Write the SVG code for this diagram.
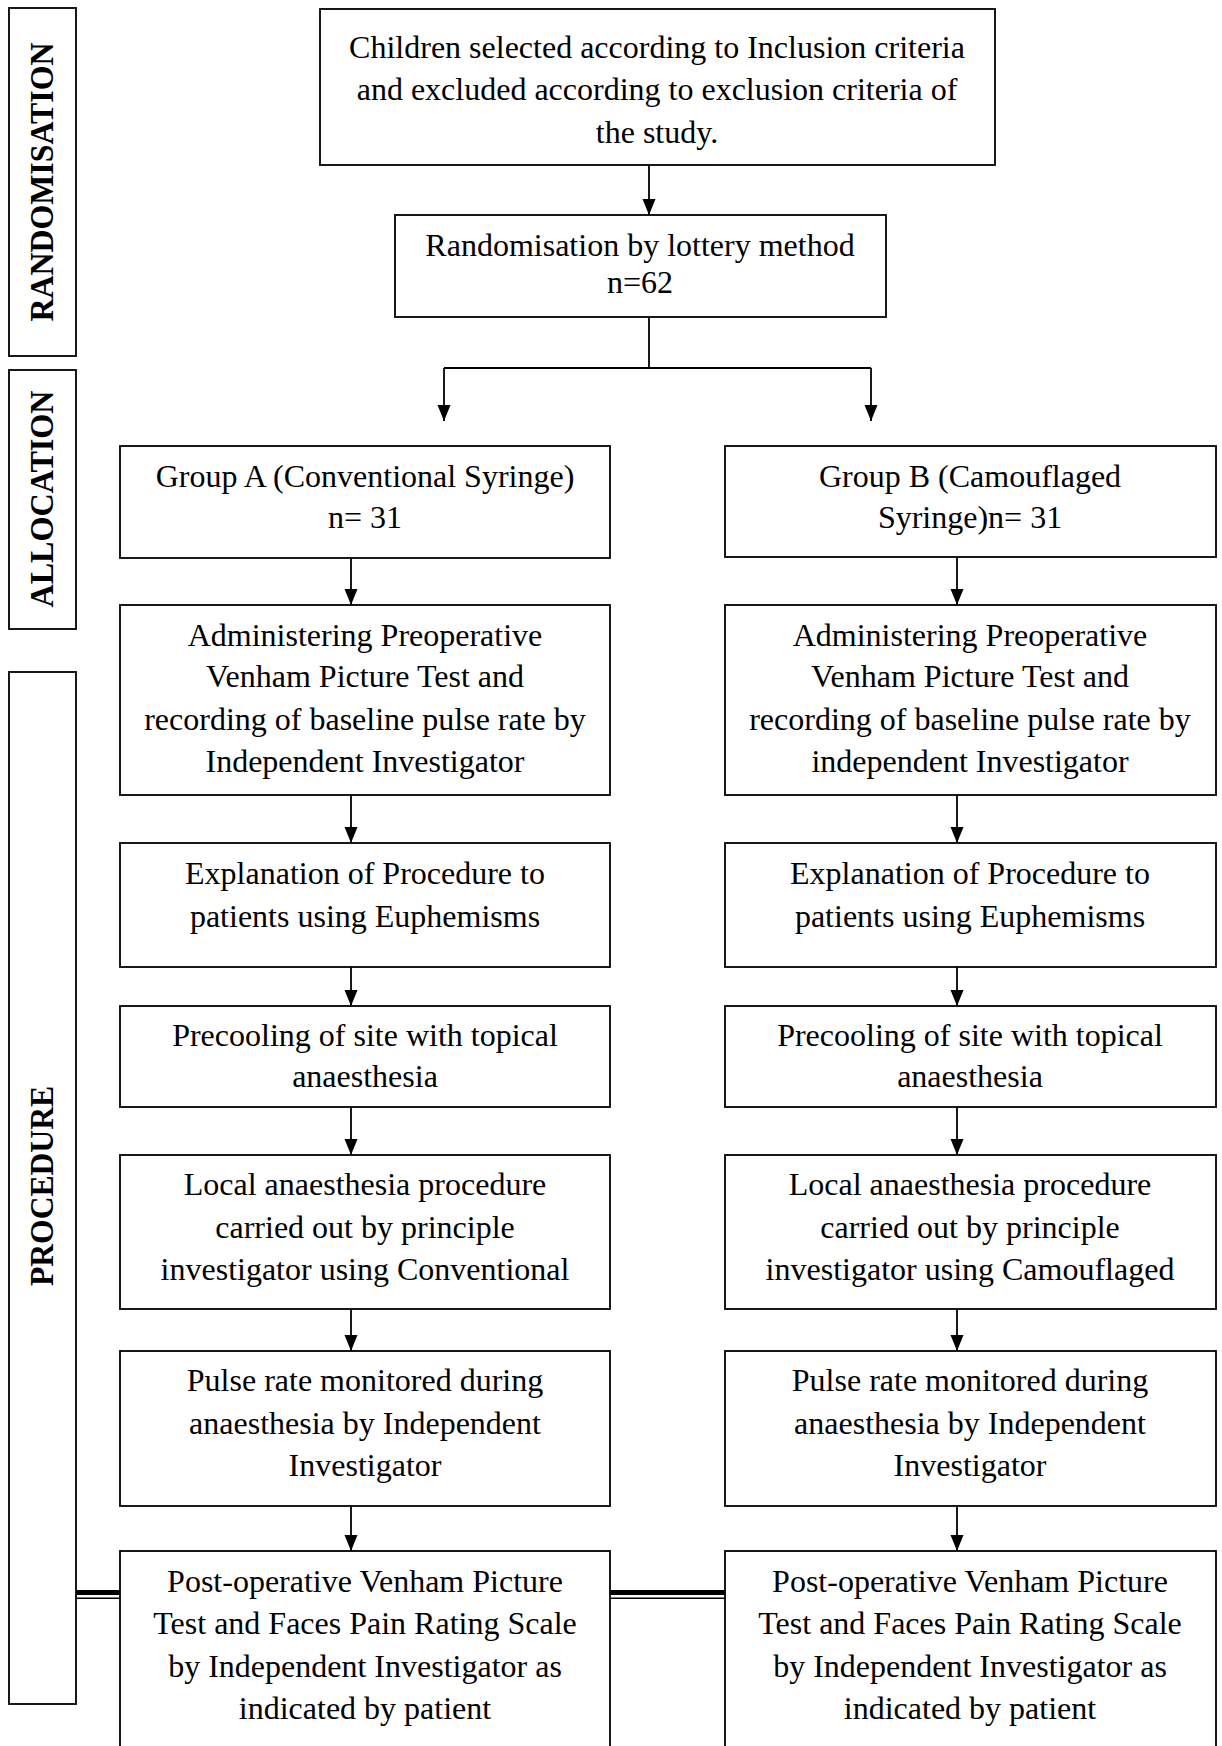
<svg xmlns="http://www.w3.org/2000/svg" width="1222" height="1746" viewBox="0 0 1222 1746">
<defs>
<marker id="ah" markerWidth="16" markerHeight="14" refX="16" refY="7" orient="auto" markerUnits="userSpaceOnUse">
<path d="M0,0.5 L16,7 L0,13.5 Z" fill="#000"/>
</marker>
<style>
.box{fill:#fff;stroke:#000;stroke-width:1.8}
.t{font-family:"Liberation Serif","Times New Roman",serif;font-size:32px;fill:#000;text-anchor:middle}
.side{font-family:"Liberation Serif","Times New Roman",serif;font-size:33px;font-weight:bold;fill:#000;text-anchor:middle}
.c{stroke:#000;stroke-width:1.8;fill:none}
.a{stroke:#000;stroke-width:1.8;fill:none;marker-end:url(#ah)}
</style>
</defs>
<rect width="1222" height="1746" fill="#fff"/>

<g id="side-randomisation">
<rect class="box" x="9" y="8" width="67" height="348"/>
<text class="side" transform="translate(53,182) rotate(-90)" textLength="279" lengthAdjust="spacingAndGlyphs">RANDOMISATION</text>
</g>
<g id="side-allocation">
<rect class="box" x="9" y="370" width="67" height="259"/>
<text class="side" transform="translate(53,499) rotate(-90)" textLength="217" lengthAdjust="spacingAndGlyphs">ALLOCATION</text>
</g>
<g id="side-procedure">
<rect class="box" x="9" y="672" width="67" height="1032"/>
<text class="side" transform="translate(53,1186) rotate(-90)" textLength="200" lengthAdjust="spacingAndGlyphs">PROCEDURE</text>
</g>

<g id="connectors">
<line class="a" x1="649" y1="165" x2="649" y2="215"/>
<polyline class="c" points="649,317 649,368"/>
<line class="c" x1="444" y1="368" x2="871" y2="368"/>
<line class="a" x1="444" y1="368" x2="444" y2="421"/>
<line class="a" x1="871" y1="368" x2="871" y2="421"/>
<line class="a" x1="351" y1="558" x2="351" y2="605"/>
<line class="a" x1="351" y1="795" x2="351" y2="843"/>
<line class="a" x1="351" y1="967" x2="351" y2="1006"/>
<line class="a" x1="351" y1="1107" x2="351" y2="1155"/>
<line class="a" x1="351" y1="1309" x2="351" y2="1351"/>
<line class="a" x1="351" y1="1506" x2="351" y2="1551"/>
<line class="a" x1="957" y1="557" x2="957" y2="605"/>
<line class="a" x1="957" y1="795" x2="957" y2="843"/>
<line class="a" x1="957" y1="967" x2="957" y2="1006"/>
<line class="a" x1="957" y1="1107" x2="957" y2="1155"/>
<line class="a" x1="957" y1="1309" x2="957" y2="1351"/>
<line class="a" x1="957" y1="1506" x2="957" y2="1551"/>
<g id="double-line">
<rect x="76" y="1590" width="44" height="5" fill="#000"/>
<rect x="76" y="1597.5" width="44" height="1.5" fill="#000"/>
<rect x="610" y="1590" width="115" height="5" fill="#000"/>
<rect x="610" y="1597.5" width="115" height="1.5" fill="#000"/>
</g>
</g>

<g id="n-start">
<rect class="box" x="320" y="9" width="675" height="156"/>
<text class="t" x="657" y="58">Children selected according to Inclusion criteria</text>
<text class="t" x="657" y="100">and excluded according to exclusion criteria of</text>
<text class="t" x="657" y="143">the study.</text>
</g>
<g id="n-random">
<rect class="box" x="395" y="215" width="491" height="102"/>
<text class="t" x="640" y="256">Randomisation by lottery method</text>
<text class="t" x="640" y="293">n=62</text>
</g>

<g id="a-group">
<rect class="box" x="120" y="446" width="490" height="112"/>
<text class="t" x="365" y="487">Group A (Conventional Syringe)</text>
<text class="t" x="365" y="528">n= 31</text>
</g>
<g id="a-admin">
<rect class="box" x="120" y="605" width="490" height="190"/>
<text class="t" x="365" y="646">Administering Preoperative</text>
<text class="t" x="365" y="687">Venham Picture Test and</text>
<text class="t" x="365" y="730">recording of baseline pulse rate by</text>
<text class="t" x="365" y="772">Independent Investigator</text>
</g>
<g id="a-explain">
<rect class="box" x="120" y="843" width="490" height="124"/>
<text class="t" x="365" y="884">Explanation of Procedure to</text>
<text class="t" x="365" y="927">patients using Euphemisms</text>
</g>
<g id="a-precool">
<rect class="box" x="120" y="1006" width="490" height="101"/>
<text class="t" x="365" y="1046">Precooling of site with topical</text>
<text class="t" x="365" y="1087">anaesthesia</text>
</g>
<g id="a-local">
<rect class="box" x="120" y="1155" width="490" height="154"/>
<text class="t" x="365" y="1195">Local anaesthesia procedure</text>
<text class="t" x="365" y="1238">carried out by principle</text>
<text class="t" x="365" y="1280">investigator using Conventional</text>
</g>
<g id="a-pulse">
<rect class="box" x="120" y="1351" width="490" height="155"/>
<text class="t" x="365" y="1391">Pulse rate monitored during</text>
<text class="t" x="365" y="1434">anaesthesia by Independent</text>
<text class="t" x="365" y="1476">Investigator</text>
</g>
<g id="a-post">
<rect class="box" x="120" y="1551" width="490" height="220"/>
<text class="t" x="365" y="1592">Post-operative Venham Picture</text>
<text class="t" x="365" y="1634">Test and Faces Pain Rating Scale</text>
<text class="t" x="365" y="1677">by Independent Investigator as</text>
<text class="t" x="365" y="1719">indicated by patient</text>
</g>

<g id="b-group">
<rect class="box" x="725" y="446" width="491" height="111"/>
<text class="t" x="970" y="487">Group B (Camouflaged</text>
<text class="t" x="970" y="528">Syringe)n= 31</text>
</g>
<g id="b-admin">
<rect class="box" x="725" y="605" width="491" height="190"/>
<text class="t" x="970" y="646">Administering Preoperative</text>
<text class="t" x="970" y="687">Venham Picture Test and</text>
<text class="t" x="970" y="730">recording of baseline pulse rate by</text>
<text class="t" x="970" y="772">independent Investigator</text>
</g>
<g id="b-explain">
<rect class="box" x="725" y="843" width="491" height="124"/>
<text class="t" x="970" y="884">Explanation of Procedure to</text>
<text class="t" x="970" y="927">patients using Euphemisms</text>
</g>
<g id="b-precool">
<rect class="box" x="725" y="1006" width="491" height="101"/>
<text class="t" x="970" y="1046">Precooling of site with topical</text>
<text class="t" x="970" y="1087">anaesthesia</text>
</g>
<g id="b-local">
<rect class="box" x="725" y="1155" width="491" height="154"/>
<text class="t" x="970" y="1195">Local anaesthesia procedure</text>
<text class="t" x="970" y="1238">carried out by principle</text>
<text class="t" x="970" y="1280">investigator using Camouflaged</text>
</g>
<g id="b-pulse">
<rect class="box" x="725" y="1351" width="491" height="155"/>
<text class="t" x="970" y="1391">Pulse rate monitored during</text>
<text class="t" x="970" y="1434">anaesthesia by Independent</text>
<text class="t" x="970" y="1476">Investigator</text>
</g>
<g id="b-post">
<rect class="box" x="725" y="1551" width="491" height="220"/>
<text class="t" x="970" y="1592">Post-operative Venham Picture</text>
<text class="t" x="970" y="1634">Test and Faces Pain Rating Scale</text>
<text class="t" x="970" y="1677">by Independent Investigator as</text>
<text class="t" x="970" y="1719">indicated by patient</text>
</g>
</svg>
